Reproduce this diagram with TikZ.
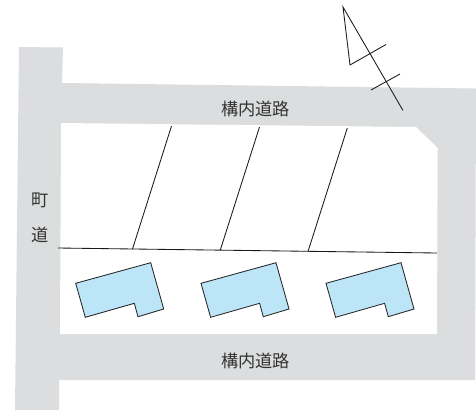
\documentclass[tikz,border=0pt]{standalone}
\usepackage{fontspec}
\newfontfamily\cjk{Noto Sans CJK JP}
\definecolor{roadgray}{HTML}{DCDDDE}
\definecolor{houseblue}{HTML}{BDE5F8}
\definecolor{textgray}{HTML}{333333}
\tikzset{
  road/.style={fill=roadgray,draw=none},
  lot/.style={fill=white,draw=none},
  thinline/.style={draw=black!90,line width=0.85pt},
  house/.style={fill=houseblue,draw=black!85,line width=0.85pt,line join=miter},
  label/.style={font=\cjk\fontsize{17.2}{17.2}\selectfont,text=textgray,inner sep=0pt},
}
\begin{document}
\begin{tikzpicture}[x=1pt,y=-1pt]
\useasboundingbox (0,0) rectangle (476,410);
\fill[white] (0,0) rectangle (476,410);
% roads
\path[road] (19,47) -- (63,47.5) -- (62,83) -- (476,88.5) -- (475,380) -- (59,380) -- (59,410) -- (15,410) -- cycle;
\path[lot] (61,123) -- (416,127) -- (437.7,148) -- (437,334) -- (60,334) -- cycle;
% parcels
\draw[thinline] (58,248) -- (437,253);
\draw[thinline] (171.5,126) -- (132.5,249);
\draw[thinline] (259.5,127) -- (220.3,250);
\draw[thinline] (347.3,128) -- (308,251.5);
% houses
\foreach \dx in {0,125.3,250.3}{
  \draw[house,shift={(\dx,0)}] (75.7,283.3) -- (150.7,262.7) -- (163.7,309) -- (138,316.7) -- (134.3,303.3) -- (85.3,317.3) -- cycle;
}
% north mark
\draw[thinline,line join=miter] (403,110.5) -- (343,7) -- (350,65) -- (386,44.5);
\draw[thinline] (371,90) -- (400,74);
% labels
\node[label] (top) at (255.7,109) {構内道路};
\node[label] (bottom) at (255.7,361) {構内道路};
\node[label] (cho) at (40,200.5) {町};
\node[label] (michi) at (40,235) {道};
\end{tikzpicture}
\end{document}
